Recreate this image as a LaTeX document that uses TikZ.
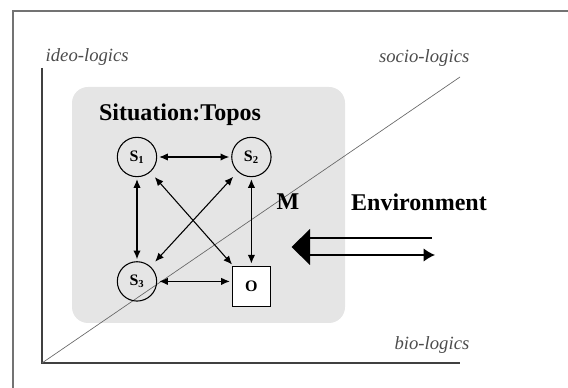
\documentclass[tikz,border=0pt]{standalone}
\usepackage{fontspec}
\setmainfont{Liberation Serif}
\usetikzlibrary{arrows.meta}
\usetikzlibrary{positioning}

\begin{document}
\begin{tikzpicture}[x=0.75pt, y=-0.75pt,
  >={Latex[length=6.5pt,width=5.5pt]},
  agent/.style={circle, draw, line width=0.8pt, minimum size=29.5pt, inner sep=0pt, font=\fontsize{12}{13}\selectfont\bfseries},
  object/.style={rectangle, draw, fill=white, line width=0.8pt, minimum width=28.5pt, minimum height=30.5pt, inner sep=0pt, font=\fontsize{12}{13}\selectfont\bfseries},
  link/.style={<->, line width=0.8pt, shorten <=1.5pt, shorten >=1.5pt},
  axis/.style={draw=black!75, line width=1.1pt},
  dim/.style={font=\fontsize{14}{16}\selectfont\itshape, text=black!70},
  title/.style={font=\fontsize{18}{21}\selectfont\bfseries}]
\useasboundingbox (0,0) rectangle (568,388);

% frame
\coordinate (f-tl) at (12.5,11.5);
\draw[black!55, line width=1.5pt] (12.5,388) -- (f-tl) -- (568,11.5);

% situation
\fill[black!10, rounded corners=12pt] (72,87) rectangle (345,323);

% logics axes
\coordinate (orig) at (42,363);
\coordinate (ideo) at (42,68);
\coordinate (bio) at (460,363);
\coordinate (socio) at (460,77);
\draw[axis] (ideo) -- (orig) -- (bio);
\draw[black!60, line width=0.5pt] (orig) -- (socio);
\node[dim, anchor=west] (ideo-l) at (41,57) {ideo-logics};
\node[dim, anchor=east] (socio-l) at (474,58) {socio-logics};
\node[dim, anchor=east] (bio-l) at (474,345) {bio-logics};

% topos
\node[title] (topos) at (180,115) {Situation:Topos};
\node[agent] (s1) at (137,157) {S\textsubscript{1}};
\node[agent, right=55.5pt of s1] (s2) {S\textsubscript{2}};
\node[agent, below=63pt of s1] (s3) {S\textsubscript{3}};
\node[object] (o) at ([yshift=-3.75pt]s3 -| s2) {O};

\draw[link] (s1) -- (s2);
\draw[link] (s1) -- (s3);
\draw[link] (s2) -- (o);
\draw[link] (s3) -- (s3 -| o.west);
\draw[link, shorten <=5pt, shorten >=1pt] (s1) -- (o);
\draw[link, shorten <=5pt, shorten >=5pt] (s2) -- (s3);

% environment
\node[title] (m) at (288,202) {M};
\node[title] (env) at (419,202) {Environment};
\coordinate (ex-tip) at (291.5,247);
\coordinate (ex-a) at (310,238);
\coordinate (ex-b) at (310,255);
\coordinate (ex-ae) at (431.5,238);
\coordinate (ex-be) at (435,255);
\fill (ex-tip) -- (310,229) -- (310,265) -- cycle;
\draw[line width=1.1pt] (ex-ae) -- (ex-a);
\draw[line width=1.1pt, -{Latex[length=8.5pt,width=10pt]}] (ex-b) -- (ex-be);
\end{tikzpicture}
\end{document}
